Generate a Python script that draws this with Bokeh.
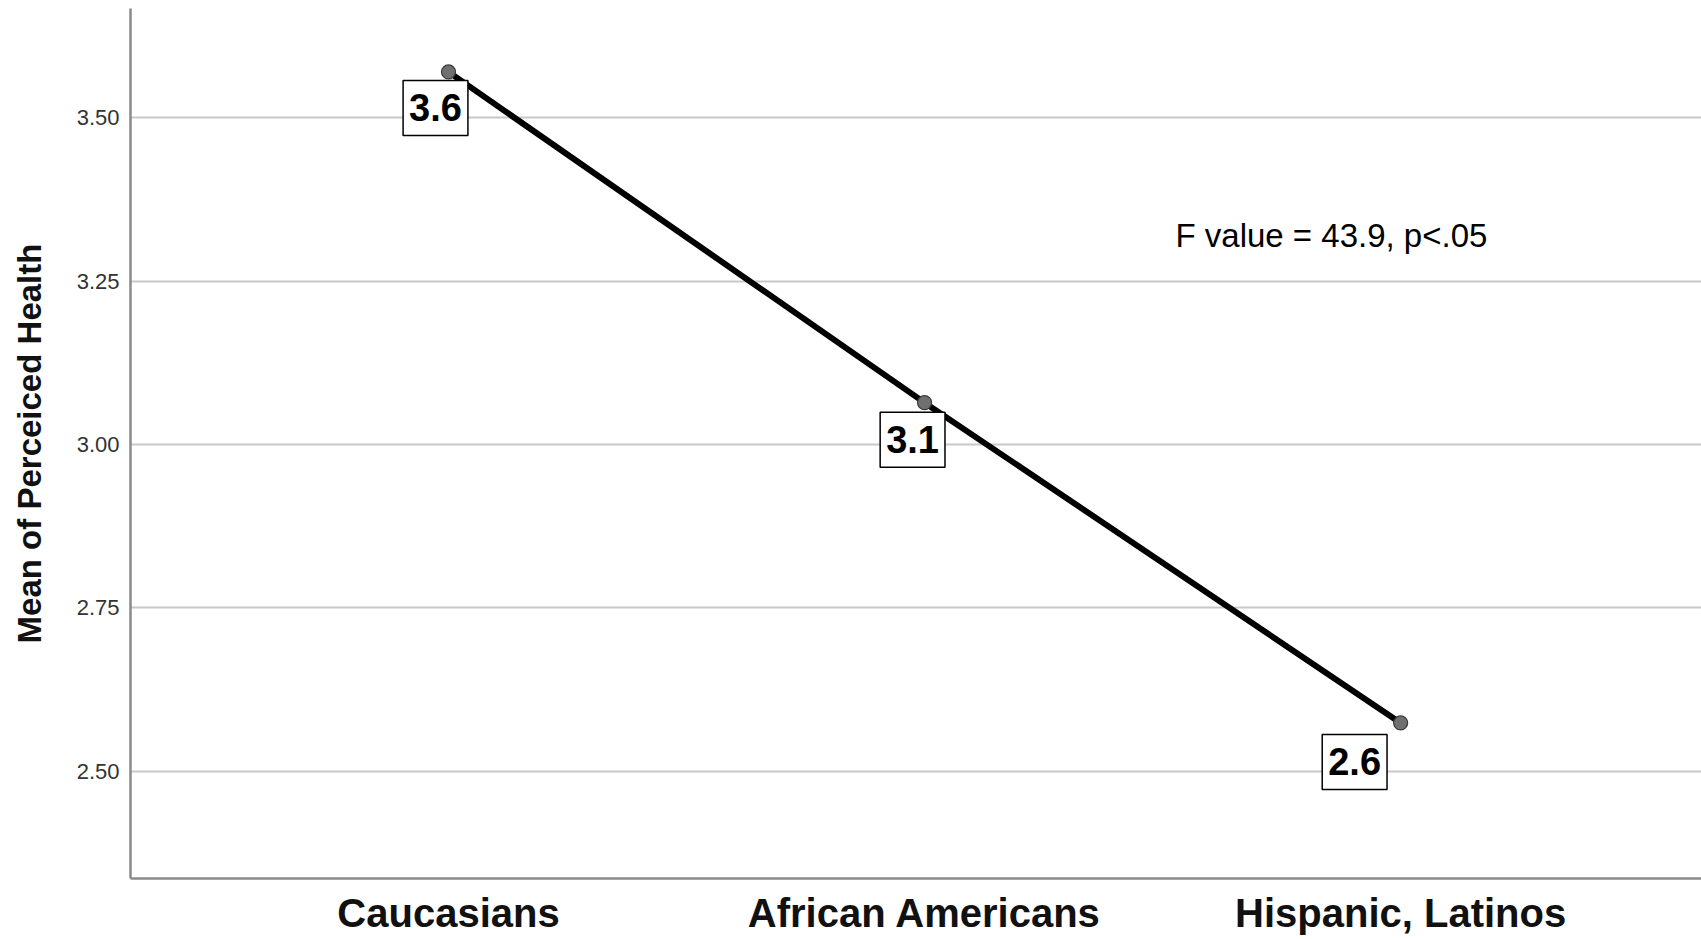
from bokeh.plotting import figure
from bokeh.models import Range1d, FixedTicker, Label, ColumnDataSource
from bokeh.embed import file_html
from bokeh.resources import INLINE

# ---- data ----
groups = ["Caucasians", "African Americans", "Hispanic, Latinos"]
mean_health = [3.570, 3.064, 2.574]
y_ticks = [2.50, 2.75, 3.00, 3.25, 3.50]
annotation_text = "F value = 43.9, p<.05"

# layout (screen offsets of value boxes)
box_offsets = [(-13, -36), (-12, -37), (-46, -39)]

xs = list(range(len(groups)))

p = figure(width=1701, height=939, output_backend="svg", toolbar_location=None,
           x_range=Range1d(-0.668, 2.632), y_range=Range1d(2.336, 3.667),
           min_border_left=130, min_border_right=0, min_border_top=8,
           min_border_bottom=61)
p.outline_line_color = None
p.background_fill_color = "white"
p.border_fill_color = "white"

# grid
p.xgrid.grid_line_color = None
p.ygrid.ticker = FixedTicker(ticks=y_ticks)
p.ygrid.grid_line_color = "#c8c8c8"
p.ygrid.grid_line_width = 2

# y axis
ya = p.yaxis[0]
ya.ticker = FixedTicker(ticks=y_ticks)
ya.major_label_overrides = {t: f"{t:.2f}" for t in y_ticks}
ya.major_tick_line_color = None
ya.minor_tick_line_color = None
ya.major_tick_out = 0
ya.major_label_standoff = 11
ya.major_label_text_font = "Liberation Sans"
ya.major_label_text_font_size = "22px"
ya.major_label_text_color = "#333333"
ya.axis_line_color = "#8a8a8a"
ya.axis_line_width = 2.5
ya.axis_label = "Mean of Perceiced Health"
ya.axis_label_text_font = "Liberation Sans"
ya.axis_label_text_font_style = "bold"
ya.axis_label_text_font_size = "33px"
ya.axis_label_text_color = "#111111"
ya.axis_label_standoff = 26

# x axis
xa = p.xaxis[0]
xa.ticker = FixedTicker(ticks=xs)
xa.major_label_overrides = {i: g for i, g in zip(xs, groups)}
xa.major_tick_line_color = None
xa.minor_tick_line_color = None
xa.major_tick_out = 0
xa.major_label_standoff = 12
xa.major_label_text_font = "Liberation Sans"
xa.major_label_text_font_style = "bold"
xa.major_label_text_font_size = "40px"
xa.major_label_text_color = "#111111"
xa.axis_line_color = "#8a8a8a"
xa.axis_line_width = 2.5

src = ColumnDataSource(dict(x=xs, y=mean_health))
p.line("x", "y", source=src, line_color="black", line_width=6)
p.scatter("x", "y", source=src, size=14, fill_color="#707070",
          line_color="#3a3a3a", line_width=1.2)

for x, v, (dx, dy) in zip(xs, mean_health, box_offsets):
    p.add_layout(Label(x=x, y=v, x_offset=dx, y_offset=dy, text=f"{v:.1f}",
                       text_align="center", text_baseline="middle",
                       text_font="Liberation Sans", text_font_style="bold",
                       text_font_size="38px", text_color="black",
                       background_fill_color="white",
                       border_line_color="black", border_line_width=1.5,
                       padding=(6, 14)))

p.add_layout(Label(x=1.527, y=3.320, text=annotation_text,
                   text_align="left", text_baseline="middle",
                   text_font="Liberation Sans", text_font_size="33px",
                   text_color="black"))

open("out.html", "w").write(file_html(p, INLINE))
